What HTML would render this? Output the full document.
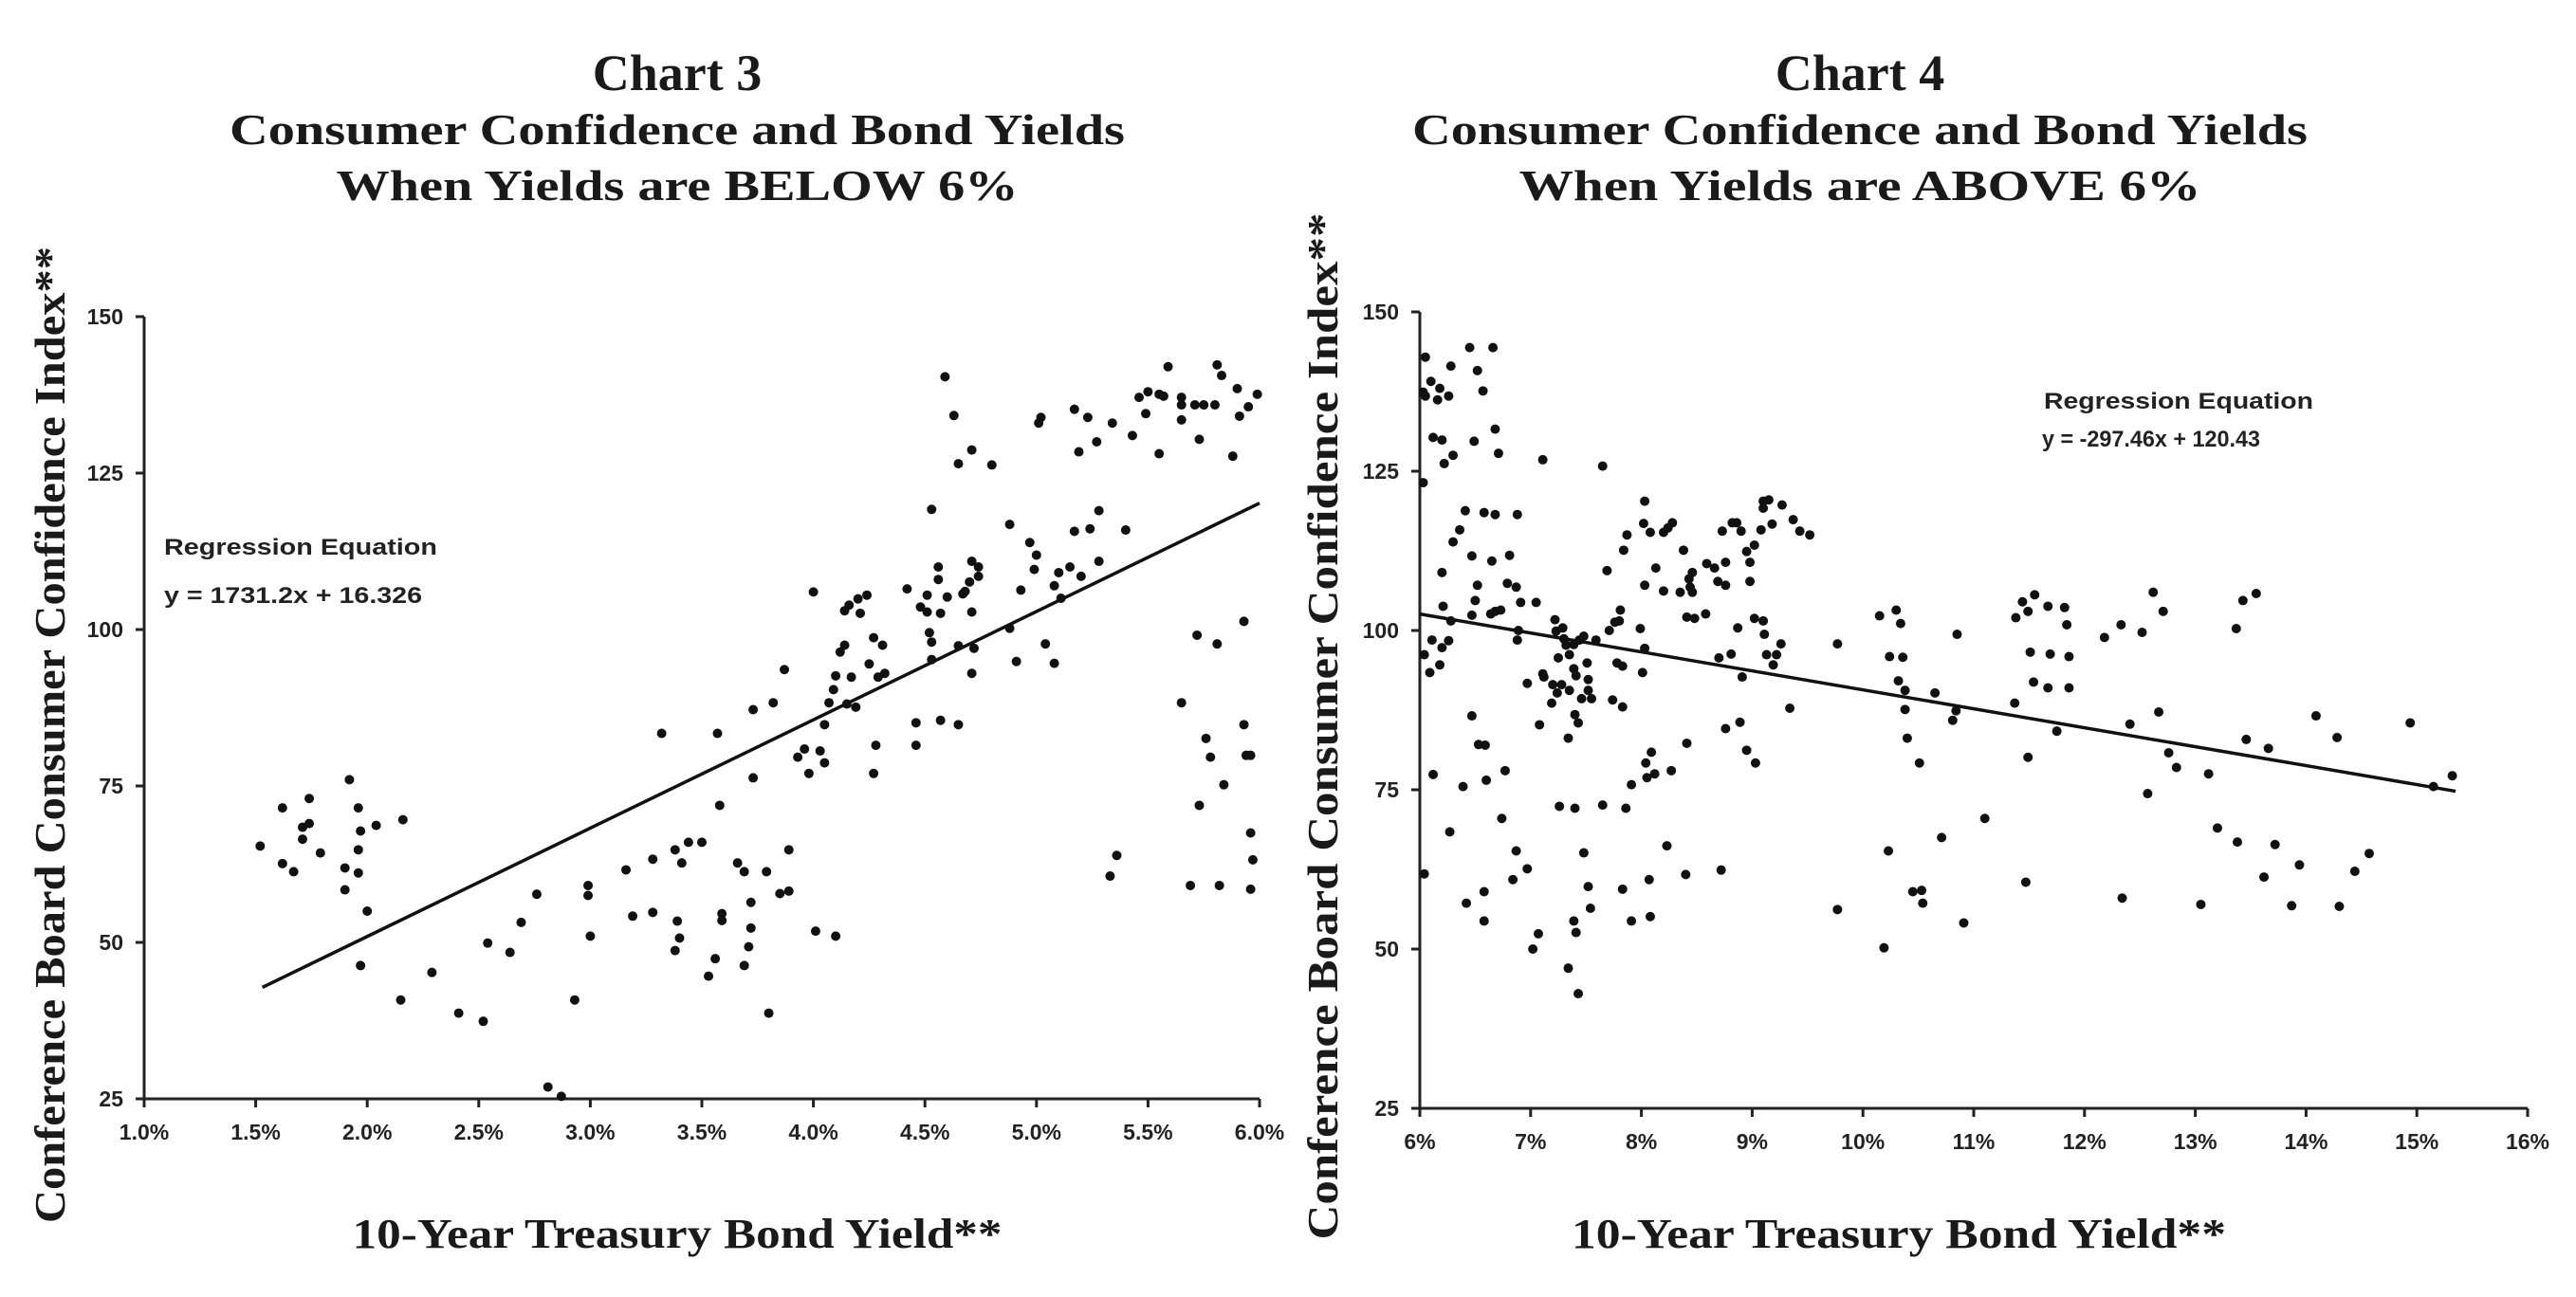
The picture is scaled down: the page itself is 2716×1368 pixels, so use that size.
<!DOCTYPE html>
<html><head><meta charset="utf-8"><style>
body{margin:0;background:#fff;}
svg{display:block;}
.t{font-family:"Liberation Serif",serif;font-weight:bold;fill:#1a1a1a;}
.s{font-family:"Liberation Sans",sans-serif;font-weight:bold;fill:#222;}
</style></head><body>
<svg id="svg" width="2716" height="1368" viewBox="0 0 2716 1368" xmlns="http://www.w3.org/2000/svg">
<text class="t" x="714" y="95" font-size="54" text-anchor="middle">Chart 3</text>
<text class="t" x="714" y="152" font-size="46" text-anchor="middle" textLength="944" lengthAdjust="spacingAndGlyphs">Consumer Confidence and Bond Yields</text>
<text class="t" x="714" y="211" font-size="46" text-anchor="middle" textLength="719" lengthAdjust="spacingAndGlyphs">When Yields are BELOW 6%</text>
<text class="t" x="1961" y="95" font-size="54" text-anchor="middle">Chart 4</text>
<text class="t" x="1961" y="152" font-size="46" text-anchor="middle" textLength="944" lengthAdjust="spacingAndGlyphs">Consumer Confidence and Bond Yields</text>
<text class="t" x="1961" y="211" font-size="46" text-anchor="middle" textLength="719" lengthAdjust="spacingAndGlyphs">When Yields are ABOVE 6%</text>
<text class="t" transform="translate(68,775) rotate(-90)" font-size="46" text-anchor="middle" textLength="1030" lengthAdjust="spacingAndGlyphs">Conference Board Consumer Confidence Index**</text>
<text class="t" transform="translate(1410,766) rotate(-90)" font-size="46" text-anchor="middle" textLength="1083" lengthAdjust="spacingAndGlyphs">Conference Board Consumer Confidence Index**</text>
<text class="t" x="714" y="1316" font-size="44" text-anchor="middle" textLength="685" lengthAdjust="spacingAndGlyphs">10-Year Treasury Bond Yield**</text>
<text class="t" x="2002" y="1316" font-size="44" text-anchor="middle" textLength="690" lengthAdjust="spacingAndGlyphs">10-Year Treasury Bond Yield**</text>
<text class="s" x="173" y="585" font-size="24" textLength="288" lengthAdjust="spacingAndGlyphs" font-weight="normal">Regression Equation</text>
<text class="s" x="173" y="636" font-size="24" textLength="272" lengthAdjust="spacingAndGlyphs">y = 1731.2x + 16.326</text>
<text class="s" x="2155" y="431" font-size="24" textLength="284" lengthAdjust="spacingAndGlyphs" font-weight="normal">Regression Equation</text>
<text class="s" x="2153" y="471" font-size="24" textLength="230" lengthAdjust="spacingAndGlyphs">y = -297.46x + 120.43</text>
</svg>
<script>
const c3X=[1.52,1.62,1.62,1.67,1.71,1.71,1.74,1.74,1.79,1.90,1.90,1.92,1.96,1.96,1.96,1.97,2.00,1.97,2.04,2.16,2.15,2.29,2.41,2.52,2.54,2.64,2.69,2.76,2.81,2.87,2.93,2.99,2.99,3.00,3.16,3.19,3.28,3.28,3.32,3.38,3.38,3.39,3.40,3.41,3.44,3.50,3.56,3.53,3.57,3.58,3.59,3.59,3.66,3.69,3.69,3.71,3.72,3.72,3.73,3.73,3.79,3.80,3.82,3.85,3.87,3.89,3.89,3.93,3.96,3.98,4.00,4.01,4.03,4.05,4.05,4.07,4.10,4.09,4.10,4.12,4.14,4.14,4.15,4.16,4.17,4.19,4.20,4.21,4.24,4.25,4.27,4.27,4.28,4.29,4.31,4.32,4.42,4.46,4.46,4.48,4.51,4.51,4.52,4.53,4.53,4.53,4.56,4.56,4.57,4.57,4.59,4.60,4.63,4.65,4.65,4.65,4.67,4.68,4.70,4.71,4.71,4.71,4.72,4.71,4.74,4.74,4.80,4.88,4.88,4.91,4.93,4.97,4.99,5.00,5.01,5.02,5.04,5.08,5.08,5.10,5.11,5.15,5.17,5.17,5.19,5.20,5.23,5.24,5.27,5.28,5.28,5.34,5.33,5.36,5.40,5.43,5.46,5.49,5.50,5.55,5.55,5.57,5.59,5.65,5.65,5.65,5.65,5.69,5.71,5.72,5.73,5.73,5.75,5.76,5.78,5.80,5.81,5.81,5.82,5.83,5.84,5.88,5.90,5.91,5.93,5.93,5.94,5.95,5.96,5.96,5.97,5.96,5.99];
const c3Y=[65.4,71.5,62.6,61.3,68.4,66.5,73.0,69.0,64.3,61.9,58.4,76.0,71.5,64.8,61.1,67.8,55.0,46.3,68.7,69.6,40.8,45.2,38.7,37.4,49.9,48.4,53.2,57.7,26.9,25.4,40.8,59.1,57.5,51.0,61.6,54.2,63.3,54.8,83.4,64.8,48.7,53.4,50.7,62.7,66.0,66.0,47.4,44.6,83.4,71.9,54.6,53.5,62.7,61.3,46.3,49.3,52.3,56.4,76.3,87.2,61.3,38.7,88.3,57.8,93.6,58.2,64.8,79.6,80.9,77.0,106.0,51.8,80.6,84.8,78.7,88.3,51.0,90.4,92.6,96.4,97.5,103.0,88.1,103.9,92.4,87.6,104.9,102.6,105.5,94.5,98.7,77.0,81.5,92.4,97.5,93.0,106.5,81.5,85.1,103.6,105.5,102.8,99.5,98.0,95.2,119.2,110.0,108.0,102.6,85.5,140.4,105.2,134.2,126.5,97.4,84.8,105.7,106.1,107.6,128.7,110.9,102.8,97.0,93.0,110.0,108.5,126.3,116.8,100.2,94.9,106.3,113.9,109.6,111.9,133.0,133.9,97.7,107.0,94.6,109.1,105.0,110.0,115.7,135.2,128.4,108.5,133.9,116.1,130.0,119.0,110.9,133.0,60.6,63.9,115.9,131.0,137.1,134.5,138.0,128.1,137.6,137.3,142.0,137.1,135.9,133.5,88.3,59.1,135.9,99.1,130.4,71.9,135.9,82.6,79.6,135.9,142.3,97.7,59.1,140.6,75.2,127.7,138.5,134.1,101.3,84.8,79.9,135.6,79.9,67.5,63.2,58.5,137.6];
const c4X=[6.05,6.03,6.05,6.10,6.18,6.16,6.26,6.28,6.12,6.20,6.22,6.30,6.03,6.45,6.52,6.57,6.66,6.49,6.68,6.71,6.20,6.30,6.36,6.41,6.58,6.68,6.88,6.47,6.52,6.50,6.47,6.65,6.64,6.68,6.73,6.81,6.79,6.87,6.91,7.05,6.21,6.28,6.26,6.20,6.18,6.11,6.04,6.09,6.89,6.88,6.97,7.11,7.11,7.12,7.08,7.22,7.23,7.29,7.25,7.20,7.24,7.19,7.28,7.30,7.32,7.35,7.39,7.39,7.44,7.48,7.41,7.35,7.40,7.43,7.34,7.46,7.51,7.52,7.52,7.55,7.59,7.65,7.69,7.71,7.76,7.78,7.80,7.81,7.83,7.74,7.83,7.84,7.87,7.91,7.86,7.99,8.01,8.02,8.03,8.03,8.03,8.08,8.13,8.20,8.20,8.24,8.28,8.35,8.38,8.43,8.44,8.46,8.41,8.48,8.46,8.58,8.59,8.66,8.69,8.70,8.73,8.76,8.76,8.82,8.86,8.90,8.87,8.81,8.91,8.95,8.98,8.98,9.02,9.02,9.08,9.10,9.10,9.15,9.18,9.27,9.10,9.11,9.13,9.19,9.22,9.26,9.37,9.43,9.52,9.34,8.89,8.95,9.03,8.76,8.72,8.41,8.27,8.23,8.40,8.09,8.04,8.05,8.12,8.07,8.08,7.91,7.83,7.65,7.52,7.54,7.48,7.40,7.26,7.39,7.41,7.34,7.43,7.07,7.02,6.97,6.87,6.84,6.74,6.77,6.60,6.58,6.58,6.42,6.39,6.47,6.53,6.59,6.27,6.12,6.04,9.77,9.77,10.15,10.19,10.23,10.24,10.30,10.34,10.32,10.36,10.38,10.38,10.40,10.51,10.45,10.53,10.54,10.65,10.71,10.81,10.84,10.85,10.91,11.10,11.37,11.38,11.44,11.49,11.55,11.51,11.54,11.49,11.47,11.67,11.67,11.69,11.75,11.82,11.84,11.86,11.86,12.18,12.33,12.34,12.41,12.52,12.57,12.62,12.67,12.71,12.76,12.83,13.05,13.12,13.20,13.37,13.38,13.43,13.46,13.55,13.62,13.66,13.72,13.87,13.94,14.09,14.28,14.30,14.44,14.57,14.94,15.15,15.32];
const c4Y=[142.9,137.4,136.8,139.1,138.0,136.2,136.8,141.5,130.3,129.9,126.2,127.5,123.2,144.4,140.8,137.6,144.4,129.7,131.6,127.8,109.1,113.9,115.8,118.8,118.5,118.2,118.2,111.7,107.1,104.7,102.4,110.9,102.6,103.0,103.2,111.8,107.4,106.8,104.4,104.4,103.8,101.5,98.4,97.3,94.6,98.5,96.2,93.4,100.0,98.5,91.7,126.8,93.2,92.7,85.2,101.7,99.9,100.4,95.7,91.5,90.2,88.6,91.5,98.7,97.7,96.2,94.0,97.8,98.5,99.1,92.9,90.6,86.8,85.5,83.1,89.3,94.9,92.3,90.6,89.3,98.5,125.8,109.4,100.0,101.3,94.9,101.5,103.2,94.4,89.1,88.0,112.6,115.0,75.8,72.1,100.3,93.4,116.8,120.3,107.1,97.2,115.4,109.8,115.4,106.2,116.1,116.9,106.0,112.6,108.1,106.8,106.0,102.1,101.9,109.1,102.6,110.5,109.8,107.7,95.7,115.6,110.7,107.1,116.9,116.9,115.6,100.4,96.3,92.7,112.4,110.7,107.7,113.4,101.9,115.8,119.2,120.3,120.5,116.7,119.7,101.5,99.4,96.2,94.6,96.2,97.9,117.4,115.6,115.0,87.8,85.6,81.2,79.2,84.6,62.4,82.3,78.0,66.2,61.7,80.9,79.2,76.9,77.5,60.9,55.1,54.4,59.4,72.6,59.8,56.4,65.1,72.1,72.4,54.4,52.6,47.0,43.0,52.4,50.0,62.6,65.4,60.9,70.5,78.0,76.5,59.0,54.4,57.2,75.5,86.6,82.1,82.0,68.4,77.4,61.8,97.9,56.2,102.3,50.2,65.4,95.9,103.2,101.1,92.1,95.8,90.6,87.6,83.1,79.2,59.0,59.2,57.2,90.2,67.5,85.9,87.4,99.4,54.1,70.5,88.6,102.0,104.5,103.0,105.6,96.6,91.9,80.1,60.5,103.8,91.0,96.3,84.2,103.6,100.9,95.9,91.0,98.9,100.9,58.0,85.3,99.7,74.4,106.0,87.2,103.0,80.8,78.5,57.0,77.5,69.0,100.3,66.8,104.7,82.9,105.8,61.3,81.5,66.4,56.8,63.2,86.6,83.2,56.7,62.2,65.0,85.5,75.5,77.2];
const yTicks=[25,50,75,100,125,150];
const c3XTicks=[1.0,1.5,2.0,2.5,3.0,3.5,4.0,4.5,5.0,5.5,6.0];
const c4XTicks=[6,7,8,9,10,11,12,13,14,15,16];
const c3Slope=1731.2, c3Icpt=16.326, c3LineX=[1.53,6.0];
const c4Slope=-297.46, c4Icpt=120.43, c4LineX=[6.0,15.35];

const NS="http://www.w3.org/2000/svg";
const svg=document.getElementById('svg');
function mk(tag,attrs,parent){const e=document.createElementNS(NS,tag);for(const k in attrs)e.setAttribute(k,attrs[k]);(parent||svg).appendChild(e);return e;}

function chart(id,xs,ys,xTicks,xmin,xmax,L,R,T,B,slope,icpt,lx,fmt,labY){
  const g=mk('g',{});
  
  
  const sx=v=>L+(v-xmin)/(xmax-xmin)*(R-L);
  const sy=v=>B-(v-25)/125*(B-T);
  const ax=mk('path',{d:`M${L},${T}V${B}H${R}`,stroke:'#222','stroke-width':3,fill:'none'},g);
  
  
  yTicks.forEach(v=>{
    const tk=mk('line',{x1:L-9,x2:L,y1:sy(v),y2:sy(v),stroke:'#222','stroke-width':3},g);
    
    
    const t=mk('text',{x:L-22,y:sy(v)+8,'font-size':23,'text-anchor':'end',class:'s'},g);
    
    
    t.textContent=v;
  });
  xTicks.forEach(v=>{
    const tk=mk('line',{x1:sx(v),x2:sx(v),y1:B,y2:B+9,stroke:'#222','stroke-width':3},g);
    
    
    const t=mk('text',{x:sx(v),y:labY,'font-size':23,'text-anchor':'middle',class:'s'},g);
    
    
    t.textContent=fmt(v);
  });
  xs.forEach((x,i)=>{
    const c=mk('circle',{cx:sx(x),cy:sy(ys[i]),r:5,fill:'#111'},g);
    
    
  });
  const f=x=>slope*x/100+icpt;
  const ln=mk('line',{x1:sx(lx[0]),y1:sy(f(lx[0])),x2:sx(lx[1]),y2:sy(f(lx[1])),stroke:'#111','stroke-width':3.5},g);
  
  
}
chart('chart3',c3X,c3Y,c3XTicks,1.0,6.0,152,1328,334,1159,c3Slope,c3Icpt,c3LineX,v=>v.toFixed(1)+'%',1202);
chart('chart4',c4X,c4Y,c4XTicks,6,16,1497,2665,329,1169,c4Slope,c4Icpt,c4LineX,v=>v+'%',1212);
</script>
</body></html>
